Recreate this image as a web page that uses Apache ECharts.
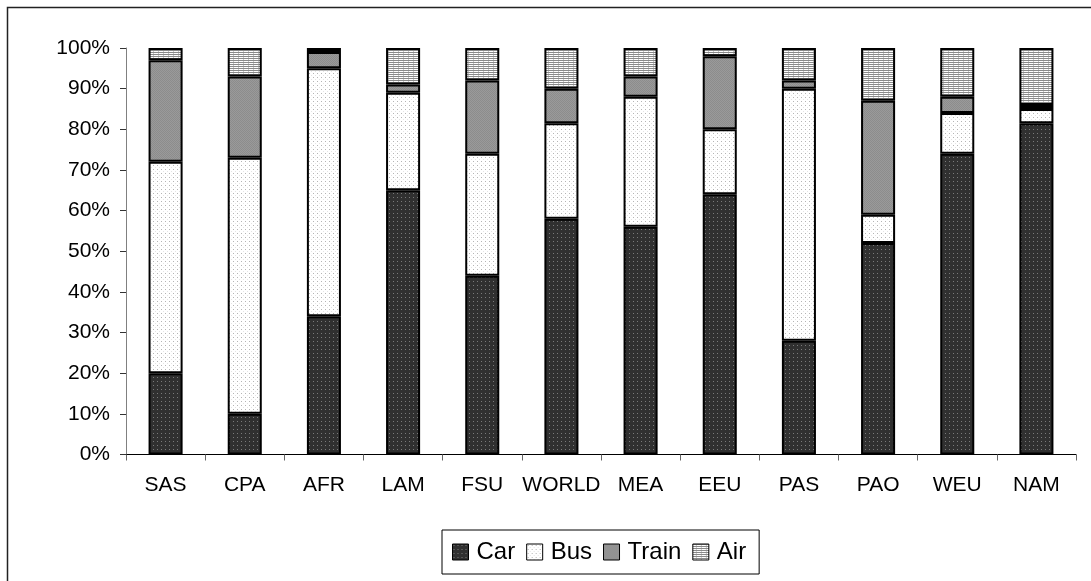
<!DOCTYPE html>
<html>
<head>
<meta charset="utf-8">
<title>Modal split by region</title>
<script src="https://cdn.jsdelivr.net/npm/echarts@6/dist/echarts.min.js"></script>
<style>
  html, body { margin: 0; padding: 0; background: #fff; }
  #chart { width: 1091px; height: 581px; }
</style>
</head>
<body>
<div id="chart"></div>
<script>
// Regions and share of passenger-km by mode (percent, stacks to 100)
const categories = ['SAS', 'CPA', 'AFR', 'LAM', 'FSU', 'WORLD', 'MEA', 'EEU', 'PAS', 'PAO', 'WEU', 'NAM'];
const car   = [20, 10, 34, 65, 44, 58,   56, 64, 28, 52, 74, 81.5];
const bus   = [52, 63, 61, 24, 30, 23.5, 32, 16, 62,  7, 10,  3.5];
const train = [25, 20,  4,  2, 18,  8.5,  5, 18,  2, 28,  4,  1];
const air   = [ 3,  7,  1,  9,  8, 10,    7,  2,  8, 13, 12, 14];
const seriesNames = ['Car', 'Bus', 'Train', 'Air'];
const yTicks = { min: 0, max: 100, interval: 10 };

// Small tiled canvases used as fill patterns
function tile(w, h, paint) {
  const c = document.createElement('canvas');
  c.width = w; c.height = h;
  const g = c.getContext('2d');
  paint(g);
  return { image: c, repeat: 'repeat' };
}
const carFill = tile(4, 4, g => {
  g.fillStyle = '#303030'; g.fillRect(0, 0, 4, 4);
  g.fillStyle = '#7a7a7a'; g.fillRect(1, 1, 1, 1);
});
const busFill = tile(4, 4, g => {
  g.fillStyle = '#ffffff'; g.fillRect(0, 0, 4, 4);
  g.fillStyle = '#b4b4b4'; g.fillRect(1, 1, 1, 1);
  g.fillStyle = '#e4e4e4'; g.fillRect(3, 3, 1, 1);
});
const trainFill = tile(2, 2, g => {
  g.fillStyle = '#9a9a9a'; g.fillRect(0, 0, 2, 2);
  g.fillStyle = '#8c8c8c'; g.fillRect(0, 0, 1, 1); g.fillRect(1, 1, 1, 1);
});
const airFill = tile(5, 2, g => {
  g.fillStyle = '#ffffff'; g.fillRect(0, 0, 5, 2);
  g.fillStyle = '#8a8a8a'; g.fillRect(0, 0, 5, 1);
  g.fillStyle = '#c8c8c8'; g.fillRect(3, 1, 1, 1);
});
const fills = [carFill, busFill, trainFill, airFill];
const values = [car, bus, train, air];

const font = '"Liberation Sans", Arial, sans-serif';
const chart = echarts.init(document.getElementById('chart'), null, { renderer: 'canvas' });

chart.setOption({
  animation: false,
  backgroundColor: '#ffffff',
  textStyle: { fontFamily: font, color: '#000' },
  graphic: [{
    type: 'rect',
    shape: { x: 7.5, y: 7.5, width: 1200, height: 700 },
    style: { fill: 'none', stroke: '#222', lineWidth: 1.5 },
    silent: true, z: 0
  }],
  grid: { left: 126, right: 15, top: 48, bottom: 126.5, containLabel: false },
  legend: {
    data: seriesNames,
    left: 442, top: 530,
    orient: 'horizontal',
    icon: 'rect',
    itemWidth: 16, itemHeight: 16,
    itemGap: 11,
    padding: [10, 13, 10, 10],
    borderColor: '#000', borderWidth: 1,
    itemStyle: { borderColor: '#000', borderWidth: 1 },
    textStyle: { fontSize: 24, fontFamily: font, color: '#000', padding: [0, 0, 0, 3] }
  },
  xAxis: {
    type: 'category',
    data: categories,
    boundaryGap: true,
    axisLine: { lineStyle: { color: '#000', width: 1 } },
    axisTick: { show: true, length: 6, alignWithLabel: false, lineStyle: { color: '#666' } },
    axisLabel: { fontSize: 21, color: '#000', fontFamily: font, margin: 20, interval: 0 }
  },
  yAxis: {
    type: 'value',
    min: yTicks.min, max: yTicks.max, interval: yTicks.interval,
    axisLine: { show: true, lineStyle: { color: '#808080', width: 1 } },
    axisTick: { show: true, length: 6, lineStyle: { color: '#333' } },
    splitLine: { show: false },
    axisLabel: { fontSize: 21, color: '#000', fontFamily: font, margin: 16, formatter: '{value}%' }
  },
  series: seriesNames.map((name, i) => ({
    name: name,
    type: 'bar',
    stack: 'share',
    barWidth: '43%',
    data: values[i],
    itemStyle: { color: fills[i], borderColor: '#000', borderWidth: 2 },
    emphasis: { disabled: true }
  }))
});
</script>
</body>
</html>
